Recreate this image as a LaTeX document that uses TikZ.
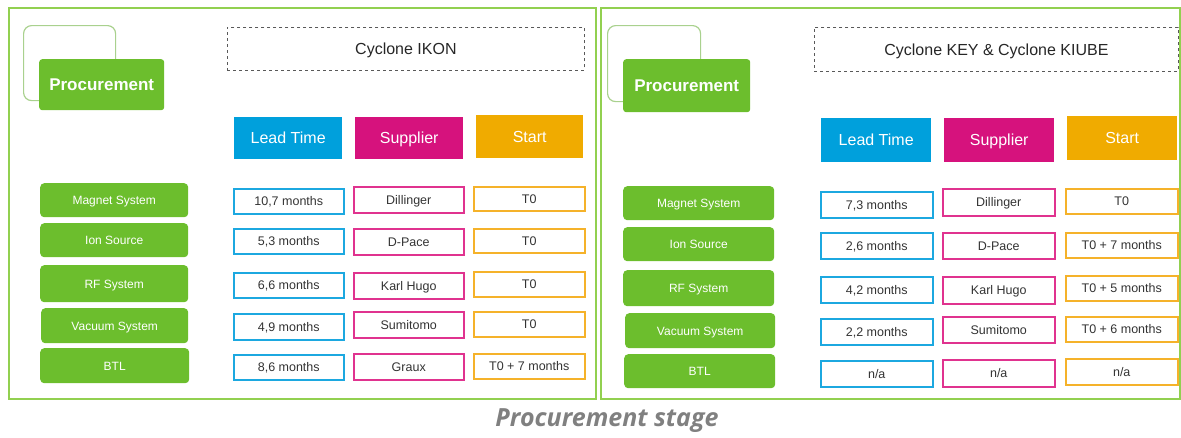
\documentclass[tikz,border=0pt]{standalone}
\usepackage{fontspec}
\setmainfont{Liberation Sans}
\newfontfamily\capfont{Open Sans}
\definecolor{gfill}{HTML}{6CBE2D}
\definecolor{gframe}{HTML}{92D050}
\definecolor{gline}{HTML}{A9D18E}
\definecolor{cblue}{HTML}{00A0DC}
\definecolor{cmag}{HTML}{D6127D}
\definecolor{corange}{HTML}{F0AB00}
\definecolor{lblue}{HTML}{1CA8E0}
\definecolor{lmag}{HTML}{E0338F}
\definecolor{lorange}{HTML}{F5B22A}
\definecolor{txt}{HTML}{333333}
\newcommand\bx[7]{\node[#6, anchor=north west, inner sep=0pt, minimum width={(#4-#2)*1pt}, minimum height={(#5-#3)*1pt}] (#1) at (#2,#3) {#7};}
\tikzset{
  panel/.style={draw=gframe, line width=2pt},
  outl/.style={draw=gline, line width=1.2pt, rounded corners=8pt},
  proc/.style={fill=gfill, rounded corners=3pt, text=white, font=\fontsize{17}{20}\selectfont\bfseries, text height=12.2pt, text depth=0pt},
  title/.style={draw=black!65, dashed, line width=0.8pt, font=\fontsize{16}{19}\selectfont, text=black!85, text height=11.5pt, text depth=0pt},
  head/.style={text=white, font=\fontsize{16}{19}\selectfont, text height=11.5pt, text depth=0pt},
  hblue/.style={head, fill=cblue},
  hmag/.style={head, fill=cmag},
  horange/.style={head, fill=corange},
  item/.style={fill=gfill, rounded corners=4pt, text=white, font=\fontsize{12}{14}\selectfont, text height=8.6pt, text depth=0pt},
  row/.style={line width=1.5pt, text=txt, font=\fontsize{12.5}{15}\selectfont, text height=9pt, text depth=0pt},
  rblue/.style={row, draw=lblue},
  rmag/.style={row, draw=lmag},
  rorange/.style={row, draw=lorange},
}
\begin{document}
\begin{tikzpicture}[x=1pt,y=-1pt]
\useasboundingbox (0,0) rectangle (1181,437);
% panels
\bx{lpanel}{8}{7}{595}{398}{panel}{}
\bx{rpanel}{600}{7}{1179}{398}{panel}{}
% ---------- left panel
\bx{loutl}{23}{25}{115}{100}{outl}{}
\bx{lproc}{39}{59}{164}{110}{proc}{Procurement}
\bx{ltitle}{227}{27}{584}{70}{title}{Cyclone IKON}
\bx{lhlt}{234}{117}{342}{159}{hblue}{Lead Time}
\bx{lhsu}{355}{117}{463}{159}{hmag}{Supplier}
\bx{lhst}{476}{115}{583}{158}{horange}{Start}
\bx{li1}{40}{183}{188}{217}{item}{Magnet System}
\bx{li2}{40}{223}{188}{257}{item}{Ion Source}
\bx{li3}{40}{265}{188}{302}{item}{RF System}
\bx{li4}{41}{308}{188}{343}{item}{Vacuum System}
\bx{li5}{40}{348}{189}{383}{item}{BTL}
\bx{llt1}{233}{188}{343}{213}{rblue}{10,7 months}
\bx{llt2}{233}{228}{343}{253}{rblue}{5,3 months}
\bx{llt3}{233}{272}{343}{297}{rblue}{6,6 months}
\bx{llt4}{233}{313}{343}{339}{rblue}{4,9 months}
\bx{llt5}{233}{354}{343}{379}{rblue}{8,6 months}
\bx{lsu1}{353}{186}{463}{212}{rmag}{Dillinger}
\bx{lsu2}{353}{228}{463}{254}{rmag}{D-Pace}
\bx{lsu3}{353}{272}{463}{298}{rmag}{Karl Hugo}
\bx{lsu4}{353}{311}{463}{337}{rmag}{Sumitomo}
\bx{lsu5}{353}{353}{463}{379}{rmag}{Graux}
\bx{lst1}{473}{186}{584}{210}{rorange}{T0}
\bx{lst2}{473}{228}{584}{252}{rorange}{T0}
\bx{lst3}{473}{271}{584}{296}{rorange}{T0}
\bx{lst4}{473}{311}{584}{336}{rorange}{T0}
\bx{lst5}{473}{353}{584}{378}{rorange}{T0 + 7 months}
% ---------- right panel
\bx{routl}{607}{25}{700}{101}{outl}{}
\bx{rproc}{623}{59}{750}{112}{proc}{Procurement}
\bx{rtitle}{814}{27}{1178}{71}{title}{Cyclone KEY \& Cyclone KIUBE}
\bx{rhlt}{821}{118}{931}{162}{hblue}{Lead Time}
\bx{rhsu}{944}{118}{1054}{162}{hmag}{Supplier}
\bx{rhst}{1067}{116}{1177}{160}{horange}{Start}
\bx{ri1}{623}{186}{774}{220}{item}{Magnet System}
\bx{ri2}{623}{227}{774}{261}{item}{Ion Source}
\bx{ri3}{623}{270}{774}{306}{item}{RF System}
\bx{ri4}{625}{313}{775}{348}{item}{Vacuum System}
\bx{ri5}{624}{354}{775}{388}{item}{BTL}
\bx{rlt1}{820}{191}{932}{217}{rblue}{7,3 months}
\bx{rlt2}{820}{232}{932}{258}{rblue}{2,6 months}
\bx{rlt3}{820}{276}{932}{302}{rblue}{4,2 months}
\bx{rlt4}{820}{318}{932}{344}{rblue}{2,2 months}
\bx{rlt5}{820}{360}{932}{386}{rblue}{n/a}
\bx{rsu1}{942}{188}{1054}{215}{rmag}{Dillinger}
\bx{rsu2}{942}{232}{1054}{258}{rmag}{D-Pace}
\bx{rsu3}{942}{276}{1054}{303}{rmag}{Karl Hugo}
\bx{rsu4}{942}{316}{1054}{342}{rmag}{Sumitomo}
\bx{rsu5}{942}{359}{1054}{386}{rmag}{n/a}
\bx{rst1}{1065}{188}{1177}{213}{rorange}{T0}
\bx{rst2}{1065}{232}{1177}{257}{rorange}{T0 + 7 months}
\bx{rst3}{1065}{275}{1177}{300}{rorange}{T0 + 5 months}
\bx{rst4}{1065}{316}{1177}{341}{rorange}{T0 + 6 months}
\bx{rst5}{1065}{358}{1177}{384}{rorange}{n/a}
% caption
\node[text=black!50, font=\capfont\bfseries\itshape\fontsize{25}{29}\selectfont] (cap) at (607,421) {Procurement stage};
\end{tikzpicture}
\end{document}
